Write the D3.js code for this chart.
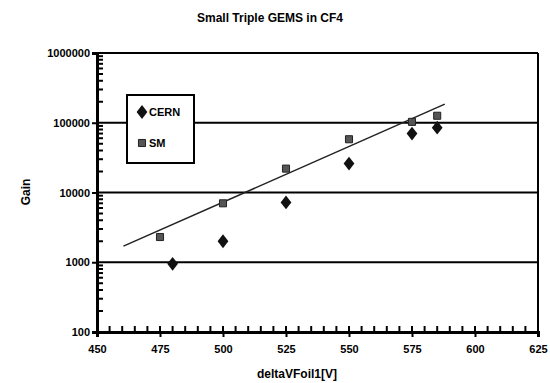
<!DOCTYPE html>
<html>
<head>
<meta charset="utf-8">
<script src="https://cdn.jsdelivr.net/npm/d3@7"></script>
<style>
  body { margin: 0; background: #fff; }
  text { font-family: "Liberation Sans Narrow", "Liberation Sans", Arial, sans-serif; font-weight: bold; }
</style>
</head>
<body>
<div id="chart"></div>
<script>
const cernX = [480, 500, 525, 550, 575, 585];
const cernY = [950, 2000, 7200, 26000, 70000, 85000];
const smX = [475, 500, 525, 550, 575, 585];
const smY = [2300, 7000, 22000, 58000, 103000, 126000];
const trendX = [460.5, 588];
const trendY = [1700, 185000];
const xTicks = [450, 475, 500, 525, 550, 575, 600, 625];
const yTicks = [100, 1000, 10000, 100000, 1000000];

const width = 550, height = 383;
const margin = { top: 53, right: 12, bottom: 51, left: 97 };
const innerW = width - margin.left - margin.right;
const innerH = height - margin.top - margin.bottom;

const svg = d3.select('#chart')
  .append('svg')
  .attr('width', width)
  .attr('height', height);

svg.append('text')
  .attr('x', 270)
  .attr('y', 22)
  .attr('text-anchor', 'middle')
  .attr('font-size', 12)
  .text('Small Triple GEMS in CF4');

const g = svg.append('g')
  .attr('transform', `translate(${margin.left},${margin.top})`);

const x = d3.scaleLinear().domain([450, 625]).range([0, innerW]);
const y = d3.scaleLog().domain([100, 1000000]).range([innerH, 0]);

// gridlines at decades
g.selectAll('.grid')
  .data(yTicks.slice(1, 4))
  .enter()
  .append('line')
  .attr('x1', 0)
  .attr('x2', innerW)
  .attr('y1', d => y(d))
  .attr('y2', d => y(d))
  .attr('stroke', '#000')
  .attr('stroke-width', 2);

// frame top/right
g.append('line').attr('x1', 0).attr('x2', innerW).attr('y1', 0).attr('y2', 0)
  .attr('stroke', '#000').attr('stroke-width', 2);
g.append('line').attr('x1', innerW).attr('x2', innerW).attr('y1', 0).attr('y2', innerH)
  .attr('stroke', '#000').attr('stroke-width', 2);

// y axis with minor ticks
const yMinor = [];
for (let e = 100; e < 1000000; e *= 10) {
  for (let k = 2; k < 10; k++) yMinor.push(e * k);
}
const yAxis = g.append('g');
yAxis.call(d3.axisLeft(y).tickValues(yTicks).tickFormat(d3.format('d')).tickSize(5).tickPadding(2));
yAxis.select('.domain').attr('stroke-width', 3);
yAxis.selectAll('.tick line').attr('stroke-width', 2);
yAxis.selectAll('.tick text').attr('font-size', 11).attr('fill', '#000');
g.append('g').selectAll('line')
  .data(yMinor)
  .enter()
  .append('line')
  .attr('x1', 0).attr('x2', 6)
  .attr('y1', d => y(d)).attr('y2', d => y(d))
  .attr('stroke', '#000').attr('stroke-width', 2);

// x axis with minor ticks
const xMinor = d3.range(455, 625, 5).filter(v => v % 25 !== 0);
const xAxis = g.append('g').attr('transform', `translate(0,${innerH})`);
xAxis.call(d3.axisBottom(x).tickValues(xTicks).tickFormat(d3.format('d')).tickSize(5).tickPadding(8));
xAxis.select('.domain').attr('stroke-width', 3);
xAxis.selectAll('.tick line').attr('stroke-width', 2);
xAxis.selectAll('.tick text').attr('font-size', 11).attr('fill', '#000');
g.append('g').attr('transform', `translate(0,${innerH})`)
  .selectAll('line')
  .data(xMinor.concat(xTicks))
  .enter()
  .append('line')
  .attr('x1', d => x(d)).attr('x2', d => x(d))
  .attr('y1', 0).attr('y2', -6)
  .attr('stroke', '#000').attr('stroke-width', 2);

// axis titles
svg.append('text')
  .attr('transform', 'translate(30,192) rotate(-90)')
  .attr('text-anchor', 'middle')
  .attr('font-size', 12)
  .text('Gain');

svg.append('text')
  .attr('x', 297)
  .attr('y', 378)
  .attr('text-anchor', 'middle')
  .attr('font-size', 12)
  .text('deltaVFoil1[V]');

// trendline
g.append('path')
  .datum(trendX.map((d, i) => [d, trendY[i]]))
  .attr('d', d3.line().x(d => x(d[0])).y(d => y(d[1])))
  .attr('fill', 'none')
  .attr('stroke', '#222')
  .attr('stroke-width', 1.5);

// markers
const cernSym = d3.symbol().type(d3.symbolDiamond).size(55);
const smSym = d3.symbol().type(d3.symbolSquare).size(50);

g.selectAll('.cern')
  .data(cernX.map((d, i) => [d, cernY[i]]))
  .enter()
  .append('path')
  .attr('d', cernSym)
  .attr('transform', d => `translate(${x(d[0])},${y(d[1])}) scale(1.35,1)`)
  .attr('fill', '#111');

g.selectAll('.sm')
  .data(smX.map((d, i) => [d, smY[i]]))
  .enter()
  .append('path')
  .attr('d', smSym)
  .attr('transform', d => `translate(${x(d[0])},${y(d[1])})`)
  .attr('fill', '#555')
  .attr('stroke', '#222')
  .attr('stroke-width', 1);

// legend
const legend = svg.append('g').attr('transform', 'translate(127,95)');
legend.append('rect')
  .attr('width', 67)
  .attr('height', 68)
  .attr('fill', '#fff')
  .attr('stroke', '#000')
  .attr('stroke-width', 2);
legend.append('path').attr('d', cernSym)
  .attr('transform', 'translate(15,17) scale(1.35,1)').attr('fill', '#111');
legend.append('text').attr('x', 22).attr('y', 21).attr('font-size', 11).text('CERN');
legend.append('path').attr('d', smSym)
  .attr('transform', 'translate(15,48)').attr('fill', '#555')
  .attr('stroke', '#222').attr('stroke-width', 1);
legend.append('text').attr('x', 22).attr('y', 52).attr('font-size', 11).text('SM');
</script>
</body>
</html>
